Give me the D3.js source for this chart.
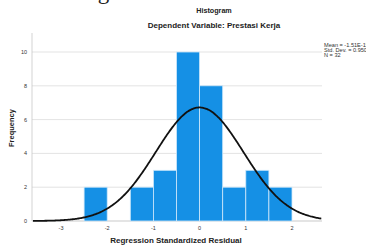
<!DOCTYPE html>
<html>
<head>
<meta charset="utf-8">
<script src="https://d3js.org/d3.v7.min.js"></script>
<style>
  body { margin: 0; background: #fff; }
  text { font-family: "Liberation Sans", Arial, sans-serif; }
</style>
</head>
<body>
<div id="chart"></div>
<script>
// histogram bins (lower edge, upper edge, count)
const binStart = [-2.5, -1.5, -1.0, -0.5, 0.0, 0.5, 1.0, 1.5];
const binEnd   = [-2.0, -1.0, -0.5, 0.0, 0.5, 1.0, 1.5, 2.0];
const counts   = [2, 2, 3, 10, 8, 2, 3, 2];
const xTicks = [-3, -2, -1, 0, 1, 2];
const yTicks = [0, 2, 4, 6, 8, 10];
const mean = 0, sd = 0.950, n = 32, binWidth = 0.5;
const statLines = ["Mean = -1.51E-15", "Std. Dev. = 0.950", "N = 32"];

const W = 366, H = 246;
const svg = d3.select("#chart").append("svg").attr("width", W).attr("height", H);

// cut-off heading from the document page above
svg.append("text").attr("x", 48).attr("y", -1)
  .style("font-family", "'Liberation Serif', serif").style("font-size", "23px")
  .attr("fill", "#222").text("Histogram");

const x = d3.scaleLinear().domain([-3, 2]).range([61, 292]);
const y = d3.scaleLinear().domain([0, 10]).range([221, 52]);
const x0 = 32, x1 = 322;

svg.append("text").attr("x", 214).attr("y", 13).attr("text-anchor", "middle")
  .style("font-size", "7.2px").style("font-weight", "bold").attr("fill", "#222").text("Histogram");
svg.append("text").attr("x", 214).attr("y", 28).attr("text-anchor", "middle")
  .style("font-size", "8px").style("font-weight", "bold").attr("fill", "#222")
  .text("Dependent Variable: Prestasi Kerja");

// grid
svg.append("g").selectAll("line").data(yTicks.filter(d => d > 0)).join("line")
  .attr("x1", x0).attr("x2", x1).attr("y1", d => y(d)).attr("y2", d => y(d))
  .attr("stroke", "#dcdcdc").attr("stroke-width", 0.8);

// left axis line
svg.append("line").attr("x1", x0).attr("x2", x0).attr("y1", 33).attr("y2", y(0))
  .attr("stroke", "#c8c8c8").attr("stroke-width", 0.8);
svg.append("line").attr("x1", x0).attr("x2", x1).attr("y1", y(0)).attr("y2", y(0))
  .attr("stroke", "#bbb").attr("stroke-width", 0.8);

// bars
svg.append("g").selectAll("rect").data(counts).join("rect")
  .attr("x", (d, i) => x(binStart[i]))
  .attr("width", (d, i) => x(binEnd[i]) - x(binStart[i]))
  .attr("y", d => y(d))
  .attr("height", d => y(0) - y(d))
  .attr("fill", "#1590e5").attr("stroke", "#cfe8fa").attr("stroke-width", 0.8);

// normal curve
const pts = d3.range(x.invert(x0 + 1), x.invert(x1) + 0.001, 0.02).map(v => [v,
  n * binWidth / (sd * Math.sqrt(2 * Math.PI)) * Math.exp(-0.5 * ((v - mean) / sd) ** 2)]);
svg.append("path").datum(pts)
  .attr("d", d3.line().x(d => x(d[0])).y(d => y(d[1])).curve(d3.curveBasis))
  .attr("fill", "none").attr("stroke", "#111").attr("stroke-width", 1.8);

// tick labels
svg.append("g").selectAll("text").data(yTicks).join("text")
  .attr("x", 27).attr("y", d => y(d) + 2).attr("text-anchor", "end")
  .style("font-size", "5.5px").attr("fill", "#333").text(d => d);
svg.append("g").selectAll("text").data(xTicks).join("text")
  .attr("x", d => x(d)).attr("y", 230).attr("text-anchor", "middle")
  .style("font-size", "5.5px").attr("fill", "#333").text(d => d);

svg.append("text").attr("transform", "translate(14,128) rotate(-90)").attr("text-anchor", "middle")
  .style("font-size", "7.5px").style("font-weight", "bold").attr("fill", "#222").text("Frequency");
svg.append("text").attr("x", 176).attr("y", 243).attr("text-anchor", "middle")
  .style("font-size", "8px").style("font-weight", "bold").attr("fill", "#222")
  .text("Regression Standardized Residual");

svg.append("g").selectAll("text").data(statLines).join("text")
  .attr("x", 324).attr("y", (d, i) => 47 + i * 5)
  .style("font-size", "5.6px").attr("fill", "#333").text(d => d);
</script>
</body>
</html>
